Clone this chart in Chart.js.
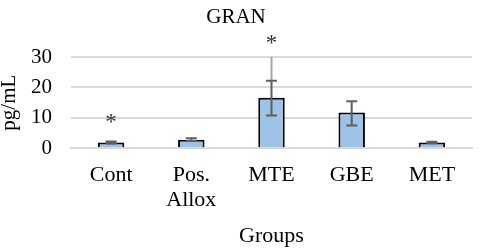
<!DOCTYPE html>
<html>
<head>
<meta charset="utf-8">
<script src="https://cdn.jsdelivr.net/npm/chart.js@4.4.1/dist/chart.umd.min.js"></script>
<style>
  html, body { margin: 0; padding: 0; background: #ffffff; }
  #wrap { width: 480px; height: 250px; }
</style>
</head>
<body>
<div id="wrap"><canvas id="c" width="480" height="250"></canvas></div>
<script>
// ---- data ----
const chartTitle = 'GRAN';
const categories = ['Cont', ['Pos.', 'Allox'], 'MTE', 'GBE', 'MET'];
const values = [1.9, 2.8, 16.6, 11.8, 1.9];
const errPlus = [0.3, 0.5, 5.6, 3.7, 0.25];
const errMinus = [0.3, 0.4, 5.8, 4.3, 0.25];
const outerHigh = [null, null, 30, null, null];
const sigMarks = ['*', '', '*', '', ''];
const sigLevel = [10, null, 36, null, null];
const yTicks = [0, 10, 20, 30];
const yTitle = 'pg/mL';
const xTitle = 'Groups';

const FONT = "'Liberation Serif', 'Times New Roman', serif";

const errorBarPlugin = {
  id: 'errorBars',
  afterDatasetsDraw(chart) {
    const ctx = chart.ctx;
    const meta = chart.getDatasetMeta(0);
    const ys = chart.scales.y;
    ctx.save();
    meta.data.forEach((bar, i) => {
      const x = bar.x;
      const v = values[i];
      const hi = ys.getPixelForValue(v + errPlus[i]);
      const lo = ys.getPixelForValue(v - errMinus[i]);
      if (outerHigh[i] != null) {
        ctx.strokeStyle = '#a6a6a6';
        ctx.lineWidth = 2;
        ctx.beginPath();
        ctx.moveTo(x, ys.getPixelForValue(outerHigh[i]));
        ctx.lineTo(x, hi);
        ctx.stroke();
      }
      ctx.strokeStyle = '#5f5f5f';
      ctx.lineWidth = 2;
      ctx.beginPath();
      ctx.moveTo(x, hi); ctx.lineTo(x, lo);
      ctx.moveTo(x - 5.5, hi); ctx.lineTo(x + 5.5, hi);
      ctx.moveTo(x - 5.5, lo); ctx.lineTo(x + 5.5, lo);
      ctx.stroke();
      if (sigMarks[i]) {
        const fs = 23;
        ctx.font = fs + 'px ' + FONT;
        ctx.fillStyle = '#333333';
        ctx.textAlign = 'center';
        ctx.textBaseline = 'alphabetic';
        ctx.fillText(sigMarks[i], x, ys.getPixelForValue(sigLevel[i]) + 0.47 * fs);
      }
    });
    ctx.restore();
  }
};

new Chart(document.getElementById('c'), {
  type: 'bar',
  data: {
    labels: categories,
    datasets: [{
      data: values,
      backgroundColor: '#9dc3e6',
      borderColor: '#000000',
      borderWidth: 2,
      borderSkipped: 'bottom',
      categoryPercentage: 1,
      barPercentage: 0.33
    }]
  },
  options: {
    responsive: false,
    animation: false,
    devicePixelRatio: 1,
    layout: { padding: { left: 0, right: 8, top: 0, bottom: 0 } },
    plugins: {
      legend: { display: false },
      tooltip: { enabled: false },
      title: {
        display: true,
        text: chartTitle,
        color: '#000000',
        font: { family: FONT, size: 21, weight: 'normal', lineHeight: 1.2 },
        padding: { top: 4.4, bottom: 27.4 }
      }
    },
    scales: {
      x: {
        grid: { display: false, drawTicks: false },
        border: { display: true, color: '#d9d9d9', width: 2 },
        ticks: {
          color: '#000000',
          padding: 14,
          maxRotation: 0,
          autoSkip: false,
          font: { family: FONT, size: 22, lineHeight: 1.136 }
        },
        title: {
          display: true,
          text: xTitle,
          color: '#000000',
          font: { family: FONT, size: 22, lineHeight: 1.2 },
          padding: { top: 0, bottom: 1 }
        },
        afterFit(scale) { scale.height = 101.7; }
      },
      y: {
        min: 0,
        max: 30,
        afterBuildTicks(scale) { scale.ticks = yTicks.map(v => ({ value: v })); },
        grid: { color: '#d9d9d9', lineWidth: 2, drawTicks: false },
        border: { display: false },
        ticks: {
          color: '#000000',
          padding: 19,
          font: { family: FONT, size: 21 }
        },
        title: {
          display: true,
          text: yTitle,
          color: '#000000',
          font: { family: FONT, size: 21, lineHeight: 0.9 },
          padding: { top: 0, bottom: 0 }
        },
        afterFit(scale) { scale.width = 71; }
      }
    }
  },
  plugins: [errorBarPlugin]
});
</script>
</body>
</html>
